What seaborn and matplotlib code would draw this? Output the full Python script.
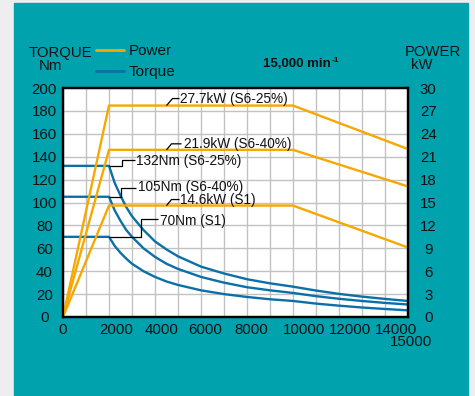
import matplotlib
matplotlib.use("Agg")
import matplotlib.pyplot as plt
from matplotlib.patches import Rectangle
import matplotlib.transforms as mtransforms
import seaborn as sns
import pandas as pd

# ---- data -------------------------------------------------------------
rpm_torque = [0, 2000, 2250, 2500, 2750, 3000, 3500, 4000, 4500, 5000, 6000,
              7000, 8000, 9000, 10000, 11000, 12000, 13000, 14000, 15000]
torque_s6_25 = [132, 132, 117, 106, 96, 88, 76, 66, 59, 53, 44,
                38, 33, 29.4, 26.5, 23.1, 20.2, 17.8, 15.8, 14.0]
torque_s6_40 = [105, 105, 93, 84, 76, 70, 60, 52.5, 46.5, 42, 35,
                30, 26, 23.3, 21, 18.2, 15.9, 14.0, 12.3, 10.9]
torque_s1 = [70, 70, 62, 56, 51, 46.5, 40, 35, 31, 28, 23.3,
             20, 17.5, 15.5, 14, 11.7, 9.9, 8.3, 7.0, 5.8]

rpm_power = [0, 2000, 10000, 15000]
power_s6_25 = [0, 27.7, 27.7, 22.0]
power_s6_40 = [0, 21.9, 21.9, 17.1]
power_s1 = [0, 14.6, 14.6, 9.1]

ratings = ["S6-25%", "S6-40%", "S1"]
x_tick_values = [0, 2000, 4000, 6000, 8000, 10000, 12000, 14000, 15000]
torque_ticks = list(range(0, 201, 20))
power_ticks = list(range(0, 31, 3))

torque_labels = ["132Nm (S6-25%)", "105Nm (S6-40%)", "70Nm (S1)"]
power_labels = ["27.7kW (S6-25%)", "21.9kW (S6-40%)", "14.6kW (S1)"]

# ---- tidy frames ------------------------------------------------------
torque_df = pd.concat([
    pd.DataFrame({"rpm": rpm_torque, "value": vals, "rating": r})
    for r, vals in zip(ratings, [torque_s6_25, torque_s6_40, torque_s1])
])
power_df = pd.concat([
    pd.DataFrame({"rpm": rpm_power, "value": vals, "rating": r})
    for r, vals in zip(ratings, [power_s6_25, power_s6_40, power_s1])
])

# ---- style ------------------------------------------------------------
sns.set_theme(style="white")
plt.rcParams["font.family"] = ["Liberation Sans", "DejaVu Sans"]

TEAL = "#00a2ae"
ORANGE = "#f7a800"
BLUE = "#0a70a6"
GRID = "#c2c2c2"
W, H = 475, 396

fig = plt.figure(figsize=(W / 100, H / 100), dpi=100, facecolor="#eeeeee")
fig.patches.append(Rectangle((14 / W, 0), (468 - 14) / W, (H - 3) / H,
                             transform=fig.transFigure, color=TEAL, zorder=-10))

ax_l, ax_r, ax_t, ax_b = 63, 408, 88, 317
ax = fig.add_axes([ax_l / W, 1 - ax_b / H, (ax_r - ax_l) / W, (ax_b - ax_t) / H])
ax.set_facecolor("white")

sns.lineplot(data=torque_df, x="rpm", y="value", hue="rating", units="rating",
             estimator=None, sort=False, palette=[BLUE] * 3, linewidth=1.7,
             legend=False, ax=ax)
ax.set_xlim(0, 15000)
ax.set_ylim(0, 200)

ax2 = ax.twinx()
sns.lineplot(data=power_df, x="rpm", y="value", hue="rating", units="rating",
             estimator=None, sort=False, palette=[ORANGE] * 3, linewidth=1.7,
             legend=False, ax=ax2)
ax2.set_ylim(0, 30)
ax2.set_xlim(0, 15000)

# grid: every 1000 rpm / every 20 Nm
ax.set_xticks(range(0, 15001, 1000))
ax.set_xticklabels([])
ax.set_yticks(torque_ticks, labels=[str(t) for t in torque_ticks], ha="center")
ax.grid(True, color=GRID, linewidth=1.0)
ax.set_axisbelow(True)
ax.tick_params(axis="both", length=0, labelsize=10.8, colors="#111111")
ax.tick_params(axis="y", pad=13.5)
ax.set_xlabel("")
ax.set_ylabel("")

ax2.set_yticks(power_ticks, labels=[str(t) for t in power_ticks], ha="center")
ax2.tick_params(axis="y", length=0, labelsize=10.8, pad=14.5, colors="#111111")
ax2.grid(False)
ax2.set_ylabel("")

for a in (ax, ax2):
    for s in a.spines.values():
        s.set_color("black")
        s.set_linewidth(1.6)

# x tick labels placed as text beneath the axis
blend = mtransforms.blended_transform_factory(ax.transData, ax.transAxes)
x_shift_px = [0, 7, 7, 4, 4, 11, 11, 11, 3]
for v, sh in zip(x_tick_values, x_shift_px):
    down = 25 if v == 15000 else 13
    off = mtransforms.ScaledTranslation(sh / 100, -down / 100, fig.dpi_scale_trans)
    ax.text(v, 0, f"{v}", transform=blend + off, ha="center", va="center",
            fontsize=10.8, color="#111111")

# ---- annotations (leader offsets in pixels, +y is upward) -------------
rpm_per_px = 15000 / (ax_r - ax_l)
nm_per_px = 200 / (ax_b - ax_t)
kw_per_px = 30 / (ax_b - ax_t)


def leader(axis, x0, y0, pts, text_dx, text_dy, label, ypx):
    xs = [x0 + dx * rpm_per_px for dx, _ in pts]
    ys = [y0 + dy * ypx for _, dy in pts]
    axis.plot(xs, ys, color="black", linewidth=0.9, solid_capstyle="butt")
    axis.text(x0 + text_dx * rpm_per_px, y0 + text_dy * ypx, label,
              ha="left", va="center", fontsize=9.8, color="#111111")


knee = rpm_torque[1]
leader(ax, knee, torque_s6_25[1], [(0, 0), (13, 0), (13, 6), (26, 6)],
       27, 5, torque_labels[0], nm_per_px)
leader(ax, knee, torque_s6_40[1], [(0, 0), (12, 0), (12, 9), (27, 9)],
       29, 10, torque_labels[1], nm_per_px)
leader(ax, knee, torque_s1[1], [(0, 0), (32, 0), (32, 18), (49, 18)],
       51, 16, torque_labels[2], nm_per_px)

p_anchor = 4500
leader(ax2, p_anchor, power_s6_25[1], [(0, 0), (6, 7), (13, 7)],
       14, 7, power_labels[0], kw_per_px)
leader(ax2, p_anchor, power_s6_40[1], [(0, 0), (5, 6), (15, 6)],
       17, 6, power_labels[1], kw_per_px)
leader(ax2, p_anchor, power_s1[1], [(0, 0), (5, 6), (13, 6)],
       14, 6, power_labels[2], kw_per_px)

# ---- header texts and legend ------------------------------------------
def fx(px):
    return px / W


def fy(py):
    return 1 - py / H


fig.text(fx(60), fy(53), "TORQUE", ha="center", va="center", fontsize=10.7, color="#111111")
fig.text(fx(50), fy(66), "Nm", ha="center", va="center", fontsize=10.7, color="#111111")
fig.text(fx(433), fy(52), "POWER", ha="center", va="center", fontsize=10.7, color="#111111")
fig.text(fx(422), fy(65), "kW", ha="center", va="center", fontsize=10.7, color="#111111")
fig.text(fx(331), fy(64), "15,000 min", ha="right", va="center", fontsize=9.5,
         fontweight="bold", color="#111111")
fig.text(fx(331.5), fy(61), "-1", ha="left", va="center", fontsize=6,
         fontweight="bold", color="#111111")

handles = [ax2.lines[0], ax.lines[0]]
leg = fig.legend(handles, ["Power", "Torque"], loc="upper left",
                 bbox_to_anchor=(fx(96), fy(44)), frameon=False, borderpad=0,
                 borderaxespad=0, handlelength=1.8, handletextpad=0.35,
                 labelspacing=0.45, fontsize=11)
for t in leg.get_texts():
    t.set_color("#111111")
for ln in leg.get_lines():
    ln.set_linewidth(2.0)

fig.savefig("out.png", dpi=100, facecolor=fig.get_facecolor())
